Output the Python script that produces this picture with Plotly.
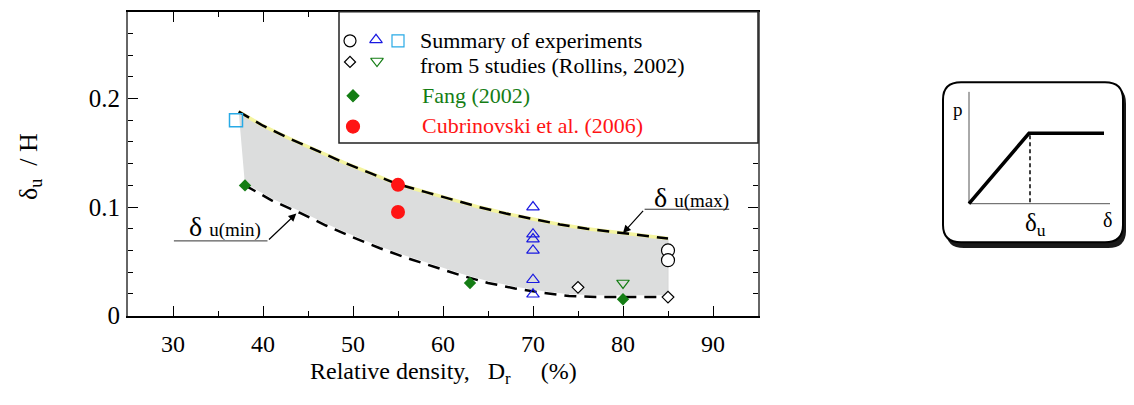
import plotly.graph_objects as go

# the page body has an 8px margin all round; the figure is sized so the page
# is exactly 1134x405 and everything is placed in page pixels offset by 8
OFF = 8
W, H = 1134 - 2 * OFF, 405 - 2 * OFF
SERIF = "Liberation Serif"

# band limits (delta_u / H vs relative density)
upper_x = [37.3, 40, 43, 46, 49, 52, 55, 58, 61, 64, 67, 70, 73, 76, 80, 85]
upper_y = [0.188, 0.175, 0.163, 0.152, 0.141, 0.131, 0.121, 0.114, 0.107, 0.100, 0.094, 0.089, 0.084, 0.080, 0.076, 0.071]
lower_x = [38, 41, 44, 47, 50, 53, 56, 59, 62, 65, 68, 71, 74, 77, 80, 85]
lower_y = [0.120, 0.106, 0.095, 0.083, 0.072, 0.062, 0.053, 0.045, 0.037, 0.030, 0.025, 0.021, 0.018, 0.017, 0.017, 0.017]

# Rollins (2002) summary
circle_x = [85, 85]
circle_y = [0.060, 0.051]
tri_up_x = [70, 70, 70, 70, 70, 70]
tri_up_y = [0.100, 0.075, 0.0705, 0.060, 0.033, 0.0196]
square_x = [37]
square_y = [0.180]
diamond_x = [75, 85]
diamond_y = [0.026, 0.017]
tri_down_x = [80]
tri_down_y = [0.030]

# Fang (2002)
fang_x = [38, 63, 80]
fang_y = [0.120, 0.030, 0.015]

# Cubrinovski et al. (2006)
cub_x = [55, 55]
cub_y = [0.1205, 0.0955]

x_ticks = [30, 40, 50, 60, 70, 80, 90]
y_ticks = [0, 0.1, 0.2]
y_ticktext = ["0", "0.1", "0.2"]

BLUE = "rgb(25,25,225)"
CYAN = "rgb(40,170,230)"
GREEN = "rgb(20,125,20)"
RED = "rgb(255,20,20)"

fig = go.Figure()

# shaded band
fig.add_trace(go.Scatter(
    x=upper_x + lower_x[::-1], y=upper_y + lower_y[::-1],
    fill="toself", fillcolor="#dcdddd", mode="lines",
    line=dict(color="#d6d6d6", width=1), showlegend=False, hoverinfo="skip"))
fig.add_trace(go.Scatter(x=upper_x, y=upper_y, mode="lines",
                         line=dict(color="#f4f4a0", width=3.5), showlegend=False))
fig.add_trace(go.Scatter(x=lower_x, y=lower_y, mode="lines",
                         line=dict(color="white", width=3.5), showlegend=False))
for xs, ys in [(upper_x, upper_y), (lower_x, lower_y)]:
    fig.add_trace(go.Scatter(x=xs, y=ys, mode="lines",
                             line=dict(color="black", width=2.5, dash="12px,8px"),
                             showlegend=False))


def pts(xs, ys, symbol, size, fill, edge, lw=1.2):
    fig.add_trace(go.Scatter(
        x=xs, y=ys, mode="markers", showlegend=False, cliponaxis=False,
        marker=dict(symbol=symbol, size=size, color=fill, line=dict(color=edge, width=lw))))


pts(tri_up_x, tri_up_y, "triangle-up-open", 11, BLUE, BLUE)
pts(circle_x, circle_y, "circle", 13, "white", "black")
pts(square_x, square_y, "square-open", 13, CYAN, CYAN, 1.5)
pts(diamond_x, diamond_y, "diamond", 9, "white", "black")
pts(tri_down_x, tri_down_y, "triangle-down-open", 11, GREEN, GREEN)
pts(fang_x, fang_y, "diamond", 9.5, GREEN, GREEN, 0)
pts(cub_x, cub_y, "circle", 14, RED, RED, 0)

# page-pixel overlay axes (x2/y2) for the legend box and the inset sketch
legend_pts = [
    (350, 42, "circle", 12, "white", "black"),
    (376, 41, "triangle-up-open", 11, BLUE, BLUE),
    (398, 42, "square-open", 12, CYAN, CYAN),
    (350, 64, "diamond", 8.5, "white", "black"),
    (377, 63, "triangle-down-open", 11, GREEN, GREEN),
    (353, 99, "diamond", 9, GREEN, GREEN),
    (353, 131, "circle", 13, RED, RED),
]
for lx, ly, sym, sz, fc, ec in legend_pts:
    fig.add_trace(go.Scatter(
        x=[lx], y=[ly], xaxis="x2", yaxis="y2", mode="markers", showlegend=False,
        marker=dict(symbol=sym, size=sz, color=fc, line=dict(color=ec, width=1.2))))

shapes = []
shapes.append(dict(type="rect", xref="x2", yref="y2", x0=339, y0=12, x1=758, y1=148,
                   line=dict(color="#222", width=1.5), fillcolor="white", layer="below"))


def rounded(x0, y0, x1, y1, r):
    return (f"M {x0+r},{y0} L {x1-r},{y0} Q {x1},{y0} {x1},{y0+r} "
            f"L {x1},{y1-r} Q {x1},{y1} {x1-r},{y1} L {x0+r},{y1} "
            f"Q {x0},{y1} {x0},{y1-r} L {x0},{y0+r} Q {x0},{y0} {x0+r},{y0} Z")


shapes.append(dict(type="path", xref="x2", yref="y2", path=rounded(946, 89, 1126, 257, 18),
                   fillcolor="#1a1a1a", line=dict(width=0)))
shapes.append(dict(type="path", xref="x2", yref="y2", path=rounded(943, 85, 1123, 251, 18),
                   fillcolor="white", line=dict(color="black", width=2)))
shapes.append(dict(type="line", xref="x2", yref="y2", x0=969, y0=95, x1=969, y1=211,
                   line=dict(color="#555", width=1)))
shapes.append(dict(type="line", xref="x2", yref="y2", x0=969, y0=211, x1=1110, y1=211,
                   line=dict(color="#555", width=1)))
shapes.append(dict(type="path", xref="x2", yref="y2", path="M 969,211 L 1029,138 L 1104,138",
                   line=dict(color="black", width=3.5)))
shapes.append(dict(type="line", xref="x2", yref="y2", x0=1030, y0=140, x1=1030, y1=211,
                   line=dict(color="black", width=1.5, dash="4px,3px")))

# leader lines for the band labels
shapes.append(dict(type="line", xref="x", yref="y", x0=82.4, y0=0.098, x1=91.8, y1=0.098,
                   line=dict(color="#333", width=1)))
shapes.append(dict(type="line", xref="x", yref="y", x0=30.1, y0=0.0688, x1=40.5, y1=0.0688,
                   line=dict(color="#333", width=1)))

ann = []


def page_text(x, y, text, size, color="black", xanchor="left", angle=0):
    ann.append(dict(xref="x2", yref="y2", x=x, y=y, text=text, showarrow=False,
                    xanchor=xanchor, yanchor="middle", textangle=angle,
                    font=dict(family=SERIF, size=size, color=color)))


page_text(418, 42, "Summary of experiments", 22)
page_text(418, 68, "from 5 studies (Rollins, 2002)", 22)
page_text(420, 99, "Fang (2002)", 22, GREEN)
page_text(420, 130, "Cubrinovski et al. (2006)", 22, RED)

page_text(958, 113, "p", 19, xanchor="center")
page_text(1107, 228, "δ", 20, xanchor="center")
page_text(1035, 233, "δ<sub>u</sub>", 25, xanchor="center")

page_text(443, 387, "Relative density,   D<sub>r</sub>     (%)", 24, xanchor="center")
page_text(30, 173, "δ<sub>u</sub>  / H", 26, xanchor="center", angle=-90)

# band labels with arrows
ann.append(dict(xref="x", yref="y", x=87.6, y=0.109, showarrow=False, xanchor="center",
                text="δ <span style='font-size:19px'>u(max)</span>",
                font=dict(family=SERIF, size=28, color="black")))
ann.append(dict(xref="x", yref="y", x=35.8, y=0.082, showarrow=False, xanchor="center",
                text="δ <span style='font-size:19px'>u(min)</span>",
                font=dict(family=SERIF, size=28, color="black")))
for hx, hy, tx, ty in [(80, 0.076, 82.4, 0.098), (43.7, 0.094, 40.5, 0.0688)]:
    ann.append(dict(xref="x", yref="y", axref="x", ayref="y", x=hx, y=hy, ax=tx, ay=ty,
                    text=" ", font=dict(size=1), showarrow=True, arrowhead=2,
                    arrowsize=1.3, arrowwidth=1.2, arrowcolor="black"))

axis_font = dict(family=SERIF, size=24, color="black")

fig.update_layout(
    width=W, height=H,
    margin=dict(l=0, r=0, t=0, b=0),
    paper_bgcolor="white", plot_bgcolor="rgba(0,0,0,0)",
    showlegend=False,
    xaxis=dict(domain=[(128 - OFF) / W, (758 - OFF) / W], range=[25, 95], tickvals=x_ticks,
               ticks="inside", ticklen=10, tickwidth=1.3, tickcolor="black",
               minor=dict(dtick=5, tick0=25, ticks="inside", ticklen=5, tickcolor="black"),
               showline=True, linecolor="black", linewidth=2, mirror="ticks",
               showgrid=False, zeroline=False, tickfont=axis_font,
               ticklabelstandoff=6, anchor="y"),
    yaxis=dict(domain=[1 - (327 - OFF) / H, 1 - (12 - OFF) / H], range=[0, 0.28],
               tickvals=y_ticks, ticktext=y_ticktext, ticks="inside", ticklen=10,
               tickwidth=1.3, tickcolor="black",
               minor=dict(dtick=0.02, tick0=0, ticks="inside", ticklen=5, tickcolor="black"),
               showline=True, linecolor="#666", linewidth=2, mirror="ticks",
               showgrid=False, zeroline=False, tickfont=dict(family=SERIF, size=25, color="black"),
               ticklabelstandoff=1, anchor="x"),
    # overlay axes in reference-page pixels
    xaxis2=dict(domain=[0, 1], range=[OFF, OFF + W], visible=False, anchor="y2", fixedrange=True),
    yaxis2=dict(domain=[0, 1], range=[OFF + H, OFF], visible=False, anchor="x2", fixedrange=True),
    shapes=shapes,
    annotations=ann,
)

fig.write_html("out.html")
